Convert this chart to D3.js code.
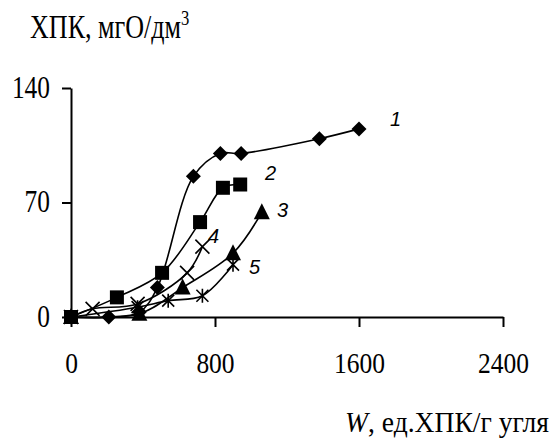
<!DOCTYPE html>
<html>
<head>
<meta charset="utf-8">
<script src="https://cdn.jsdelivr.net/npm/d3@7"></script>
<style>
body { margin: 0; background: #fff; }
text { fill: #000; }
</style>
</head>
<body>
<svg id="chart" width="550" height="441"></svg>
<script>
// series: [W, ХПК]
var s1 = [[0,0],[210,0],[380,3],[480,18],[680,86],[830,100],[945,100],[1380,109],[1600,115]];
var s2 = [[0,0],[255,12],[506,27],[717,58],[844,79],[940,81]];
var s3 = [[0,0],[380,2],[620,18],[900,39],[1060,64]];
var s4 = [[0,0],[120,5],[370,8],[645,27],[730,43]];
var s5 = [[0,0],[370,6],[540,10],[730,13],[900,32]];
var seriesNames = ["1","2","3","4","5"];
var xTicks = [0,800,1600,2400];
var yTicks = [0,70,140];

var svg = d3.select("#chart");

var x = d3.scaleLinear().domain([0,2400]).range([71,503]);
var y = d3.scaleLinear().domain([0,140]).range([317,88]);

var serif = "'Liberation Serif','Times New Roman',serif";
var sx = 0.82; // the original's serif text is narrow

// axes
var yAxis = d3.axisLeft(y).tickValues(yTicks).tickSize(9).tickSizeOuter(0).tickFormat(d3.format("d"));
var gy = svg.append("g").attr("transform","translate(71,0)").call(yAxis);
gy.select(".domain").attr("stroke-width",2);
gy.selectAll(".tick line").attr("stroke-width",2);
gy.selectAll(".tick text").style("font-family",serif).style("font-size","31px")
    .attr("x",-21/sx).attr("dy","0.3em").attr("transform","scale("+sx+",1)");

var xAxis = d3.axisBottom(x).tickValues(xTicks).tickSize(10).tickSizeOuter(0).tickFormat(d3.format("d"));
var gx = svg.append("g").attr("transform","translate(0,317)").call(xAxis);
gx.select(".domain").attr("stroke-width",2);
gx.selectAll(".tick line").attr("stroke-width",2);
gx.selectAll(".tick text").style("font-family",serif).style("font-size","30px")
    .attr("y",56).attr("dy",0).attr("transform","scale(0.85,1)");

// titles
var t = svg.append("text").attr("transform","translate(30,38) scale(0.79,1)")
    .style("font-family",serif).style("font-size","33px");
t.append("tspan").text("ХПК, мгО/дм");
t.append("tspan").attr("dy","-13").style("font-size","21px").text("3");

var tx = svg.append("text").attr("transform","translate(345,432) scale(0.92,1)")
    .style("font-family",serif).style("font-size","30px");
tx.append("tspan").style("font-style","italic").text("W");
tx.append("tspan").text(", ед.ХПК/г угля");

// lines
var line = d3.line().x(function(d){ return x(d[0]); }).y(function(d){ return y(d[1]); })
    .curve(d3.curveCatmullRom.alpha(0.5));
var all = [s1,s2,s3,s4,s5];
svg.selectAll(".ln").data(all).enter().append("path")
    .attr("class","ln").attr("d",line).attr("fill","none")
    .attr("stroke","#000").attr("stroke-width",1.6);

// markers
function pts(data){ return svg.append("g").selectAll("g").data(data).enter().append("g")
    .attr("transform",function(d){ return "translate("+x(d[0])+","+y(d[1])+")"; }); }

pts(s1).append("path").attr("d","M0,-7.5L7.5,0L0,7.5L-7.5,0Z").attr("fill","#000");
pts(s2).append("rect").attr("x",-7).attr("y",-7).attr("width",14).attr("height",14).attr("fill","#000");
pts(s3).append("path").attr("d","M0,-9L8,7L-8,7Z").attr("fill","#000");
pts(s4).append("path").attr("d","M-7,-7L7,7M7,-7L-7,7").attr("stroke","#000").attr("stroke-width",1.6);
pts(s5).append("path").attr("d","M-6,-6L6,6M6,-6L-6,6M0,-7L0,7").attr("stroke","#000").attr("stroke-width",1.6);

// series numbers
var labPos = [[1772,117],[1078,84],[1144,61],[761,45],[989,26]];
svg.selectAll(".sl").data(seriesNames).enter().append("text")
    .attr("class","sl")
    .attr("x",function(d,i){ return x(labPos[i][0]); })
    .attr("y",function(d,i){ return y(labPos[i][1]); })
    .style("font-family","'Liberation Sans',Arial,sans-serif")
    .style("font-style","italic").style("font-size","20px")
    .text(function(d){ return d; });
</script>
</body>
</html>
